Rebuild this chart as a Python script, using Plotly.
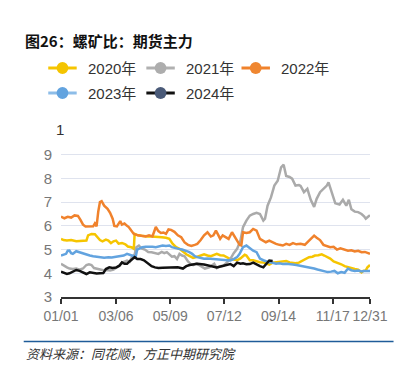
import plotly.graph_objects as go

# ---------------- data (day index within year, value) ----------------
tick_days = [0, 65, 129, 193, 257, 321, 365]
tick_labels = ["01/01", "03/06", "05/09", "07/12", "09/14", "11/17", "12/31"]

x2020 = [0,3,7,12,18,24,30,32,36,40,43,46,49,53,56,59,62,65,68,72,76,79,83,86,87,91,95,99,103,107,111,115,119,124,128,132,136,140,144,148,152,156,161,165,169,173,177,184,188,192,196,200,204,208,212,215,217,219,223,227,231,235,239,243,246,250,254,258,262,266,270,274,277,281,285,289,293,297,300,304,308,311,314,318,322,326,331,335,339,343,347,351,355,357,360,362,365]
y2020 = [5.45,5.4,5.38,5.4,5.35,5.38,5.38,5.6,5.66,5.65,5.5,5.4,5.35,5.42,5.38,5.27,5.35,5.38,5.25,5.28,5.22,5.13,5.1,5.03,5.66,5.6,5.58,5.55,5.55,5.55,5.55,5.55,5.52,5.5,5.45,5.24,5.1,5.03,4.9,4.8,4.72,4.65,4.7,4.75,4.8,4.75,4.72,4.82,4.76,4.75,4.68,4.6,4.58,4.55,4.63,4.72,4.78,4.75,4.55,4.55,4.5,4.47,4.46,4.4,4.37,4.45,4.46,4.5,4.48,4.52,4.46,4.45,4.42,4.45,4.52,4.58,4.68,4.7,4.75,4.76,4.8,4.75,4.7,4.62,4.5,4.45,4.38,4.3,4.25,4.22,4.18,4.15,4.04,4.1,4.12,4.25,4.35]

x2021 = [0,4,7,10,14,18,22,26,30,33,36,39,42,46,50,54,58,62,65,69,72,76,78,81,84,87,89,92,95,99,103,107,111,115,119,122,125,128,131,134,137,140,143,146,150,153,156,160,163,167,170,175,181,184,188,192,196,200,204,208,212,215,219,223,227,231,235,239,241,244,248,252,256,260,263,266,270,273,277,281,283,287,291,295,299,302,306,310,314,316,320,324,329,333,337,340,343,347,351,355,358,360,362,365]
y2021 = [4.4,4.3,4.25,4.2,4.18,4.2,4.15,4.2,4.35,4.38,4.35,4.22,4.2,4.15,4.13,4.14,4.12,4.16,4.22,4.33,4.45,4.5,4.53,4.48,4.7,4.8,5.1,5.17,5.05,5.0,4.9,4.89,4.85,4.82,4.9,4.85,4.89,4.8,4.7,4.72,4.6,4.82,4.75,4.72,4.5,4.4,4.35,4.42,4.35,4.25,4.2,4.25,4.4,4.22,4.3,4.32,4.45,4.6,4.85,5.03,5.38,5.94,6.22,6.43,6.5,6.55,6.5,6.22,6.3,6.85,7.2,7.7,7.9,8.47,8.58,8.1,8.06,7.99,7.7,7.72,7.68,7.42,7.56,7.1,6.8,7.14,7.42,7.55,7.7,7.83,7.4,6.95,6.9,7.1,6.85,7.1,6.7,6.6,6.58,6.5,6.4,6.3,6.36,6.45]

x2022 = [0,4,8,12,16,20,23,26,29,34,38,40,42,44,46,48,51,55,58,61,63,66,68,70,72,75,78,80,83,86,91,96,100,104,108,110,112,115,118,121,124,127,130,134,138,142,146,150,154,158,161,165,169,173,177,180,183,186,188,191,195,198,202,205,208,211,213,215,219,223,227,231,235,238,242,246,250,254,258,262,266,270,274,278,283,288,293,297,299,302,306,310,314,318,322,326,330,335,339,343,347,351,355,359,362,365]
y2022 = [6.39,6.32,6.38,6.35,6.44,6.42,6.25,6.05,5.97,5.97,5.98,6.1,5.98,6.6,7.0,7.04,6.85,6.72,6.55,6.3,6.0,5.98,6.08,6.2,6.05,6.1,6.0,5.95,5.8,5.66,5.6,5.58,5.55,5.6,5.55,5.75,5.95,5.78,5.7,5.72,5.66,5.85,5.83,5.75,5.6,5.52,5.3,5.2,5.15,5.2,5.24,5.4,5.6,5.73,5.55,5.6,5.8,5.6,5.45,5.6,5.5,5.45,5.73,5.55,5.35,5.2,5.17,5.73,5.7,5.73,5.87,5.8,5.45,5.38,5.31,5.38,5.3,5.24,5.2,5.17,5.24,5.2,5.27,5.22,5.24,5.2,5.38,5.55,5.59,5.5,5.4,5.2,5.15,5.1,5.12,5.0,5.05,4.98,4.95,4.97,4.92,4.95,4.89,4.9,4.85,4.82]

x2023 = [0,3,6,8,10,12,14,18,22,26,30,34,38,42,47,51,56,60,65,70,74,78,82,86,88,90,93,96,100,104,108,112,116,120,124,128,131,135,139,143,147,151,155,158,161,165,169,173,177,181,185,189,193,197,200,204,208,211,213,215,219,223,227,231,235,239,242,246,250,254,258,262,266,270,274,278,283,287,291,295,299,303,307,311,315,319,323,327,331,335,339,343,347,351,355,358,362,365]
y2023 = [4.75,4.78,4.82,4.95,4.96,4.85,4.82,4.93,4.88,4.85,4.8,4.75,4.72,4.7,4.68,4.66,4.68,4.67,4.7,4.72,4.75,4.82,4.78,4.72,4.65,5.0,5.05,5.1,5.12,5.13,5.12,5.1,5.15,5.17,5.15,5.17,5.1,5.05,5.03,5.0,4.96,4.9,4.82,4.72,4.68,4.65,4.61,4.62,4.61,4.6,4.57,4.55,4.54,4.54,4.54,4.6,4.68,4.82,4.95,5.1,5.17,5.05,4.95,4.89,4.62,4.55,4.5,4.46,4.44,4.4,4.42,4.39,4.4,4.37,4.37,4.35,4.32,4.3,4.28,4.25,4.2,4.16,4.13,4.1,4.05,4.07,4.1,4.0,4.05,4.02,4.2,4.13,4.1,4.12,4.08,4.1,4.1,4.1]

x2024 = [0,3,7,10,14,18,22,25,30,34,38,42,46,50,53,57,61,65,69,72,75,78,81,84,87,90,94,98,103,107,111,115,120,126,132,138,144,148,152,157,161,169,177,184,192,200,204,208,212,215,219,223,227,231,235,239,242,246,250]
y2024 = [4.07,4.02,3.97,4.0,4.08,4.14,4.1,4.05,3.97,4.04,4.0,3.99,4.0,4.01,4.18,4.25,4.22,4.24,4.32,4.46,4.4,4.4,4.5,4.58,4.68,4.6,4.6,4.55,4.4,4.3,4.25,4.22,4.23,4.23,4.24,4.25,4.2,4.3,4.35,4.38,4.4,4.37,4.32,4.25,4.32,4.39,4.3,4.45,4.4,4.42,4.38,4.39,4.45,4.36,4.3,4.25,4.39,4.54,4.52]

series_names = ["2020年", "2021年", "2022年", "2023年", "2024年"]
y_ticks = [3, 4, 5, 6, 7, 8, 9]

# ---------------- styling ----------------
W, H = 400, 365
L, R, T, B = 61, 24, 131, 68
PW, PH = W - L - R, H - T - B

def px(x):
    return (x - L) / PW

def py(y):
    return (H - B - y) / PH

line_colors = ["#F6C500", "#AAAAAA", "#F0822C", "#62A3DF", "#111111"]
legend_line_colors = ["#F6C500", "#B0B0B0", "#F0822C", "#8DBDE8", "#111111"]
legend_dot_colors = ["#F4C400", "#ADADAD", "#EF8630", "#62A3DF", "#4A5A78"]

xs = [x2020, x2021, x2022, x2023, x2024]
ys = [y2020, y2021, y2022, y2023, y2024]

fig = go.Figure()
for name, xv, yv, c in zip(series_names, xs, ys, line_colors):
    fig.add_trace(go.Scatter(x=xv, y=yv, mode="lines", name=name,
                             line=dict(color=c, width=2.5), showlegend=False,
                             hoverinfo="skip"))

shapes = []
annotations = []

# manual legend
legend_pos = [(48, 68), (148, 68), (245, 68), (48, 93), (148, 93)]
for (lx, ly), name, lc, dc in zip(legend_pos, series_names, legend_line_colors, legend_dot_colors):
    shapes.append(dict(type="line", xref="paper", yref="paper",
                       x0=px(lx), x1=px(lx + 29), y0=py(ly), y1=py(ly),
                       line=dict(color=lc, width=3)))
    cx = lx + 14.5
    shapes.append(dict(type="circle", xref="paper", yref="paper",
                       x0=px(cx - 6), x1=px(cx + 6), y0=py(ly + 6), y1=py(ly - 6),
                       fillcolor=dc, line=dict(color=dc, width=0)))
    annotations.append(dict(xref="paper", yref="paper", x=px(lx + 38), y=py(ly),
                            xanchor="left", yanchor="middle", showarrow=False,
                            text=name, font=dict(size=15, color="#333333",
                                                 family="Liberation Sans, Noto Sans CJK SC")))

# title
annotations.append(dict(xref="paper", yref="paper", x=px(22), y=py(40),
                        xanchor="left", yanchor="middle", showarrow=False,
                        text="<b>图26：螺矿比：期货主力</b>",
                        font=dict(size=15, color="#111111", family="Noto Sans CJK SC")))
# axis name
annotations.append(dict(xref="paper", yref="paper", x=px(60), y=py(129),
                        xanchor="center", yanchor="middle", showarrow=False,
                        text="1", font=dict(size=15, color="#333333",
                                            family="Liberation Sans, Noto Sans CJK SC")))
# source
shapes.append(dict(type="line", xref="paper", yref="paper",
                   x0=px(23), x1=px(400), y0=py(341.5), y1=py(341.5),
                   line=dict(color="#1F5C99", width=1.5)))
annotations.append(dict(xref="paper", yref="paper", x=px(23), y=py(353),
                        xanchor="left", yanchor="middle", showarrow=False,
                        text="<i>资料来源：同花顺，方正中期研究院</i>",
                        font=dict(size=13, color="#333333", family="Noto Sans CJK SC")))

fig.update_layout(
    width=W, height=H, autosize=False,
    margin=dict(l=L, r=R, t=T, b=B, pad=0),
    paper_bgcolor="white", plot_bgcolor="white",
    showlegend=False,
    shapes=shapes, annotations=annotations,
    xaxis=dict(range=[0, 365], tickmode="array", tickvals=tick_days, ticktext=tick_labels,
               showgrid=False, zeroline=False, showline=True, linecolor="#333333", linewidth=1.5,
               ticks="outside", ticklen=5, tickwidth=1.5, tickcolor="#333333",
               tickfont=dict(size=14, color="#777777", family="Liberation Sans, Noto Sans CJK SC")),
    yaxis=dict(range=[3, 10], tickmode="array", tickvals=y_ticks,
               showgrid=True, gridcolor="#DFE3EE", gridwidth=1, zeroline=False, showline=False,
               ticks="", ticklabelstandoff=8,
               tickfont=dict(size=15, color="#777777", family="Liberation Sans, Noto Sans CJK SC")),
)

fig.write_html("out.html", config={"displayModeBar": False},
               post_script="document.body.style.margin='0';document.body.style.padding='0';")
